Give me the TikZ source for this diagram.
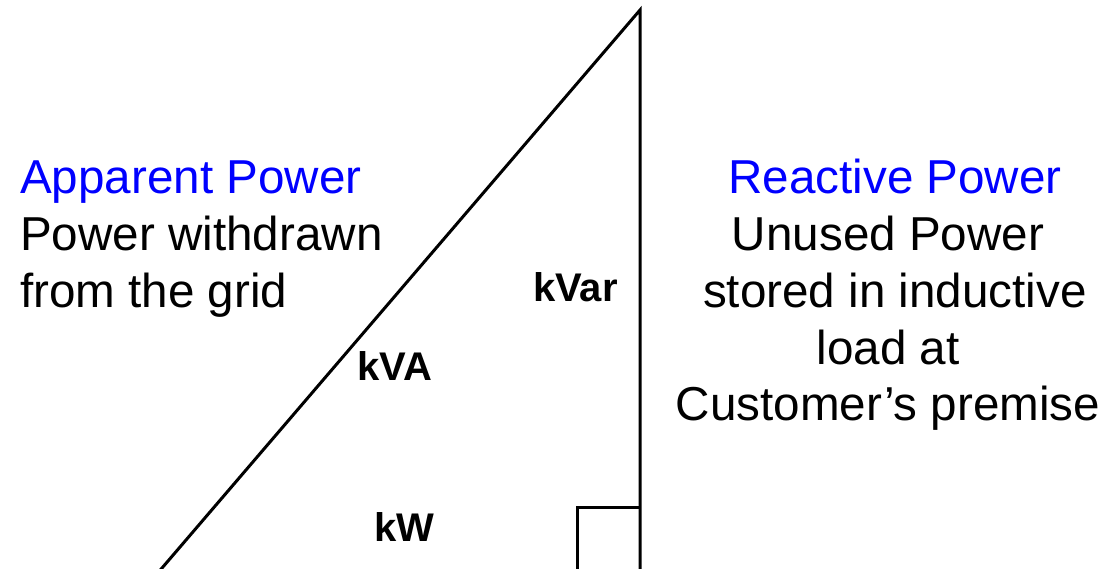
\documentclass[tikz,border=0pt]{standalone}
\usepackage{fontspec}
\setmainfont{Liberation Sans}
\definecolor{titleblue}{RGB}{0,0,255}
\begin{document}
\begin{tikzpicture}[x=1pt,y=-1pt,
  edge/.style={draw=black,line width=3pt},
  big/.style={font=\fontsize{47.6}{57}\selectfont,inner sep=0pt},
  lbl/.style={font=\fontsize{40}{46}\selectfont\bfseries,inner sep=0pt},
  ttl/.style={big,text=titleblue}]
\useasboundingbox (0,0) rectangle (1107,568);
\coordinate (top) at (640,10);
\coordinate (br) at (640,572);
\coordinate (bl) at (158.6,572);
\coordinate (sqa) at (577,572);
\coordinate (sqb) at (577,507);
\coordinate (sqc) at (640,507);
\draw[edge] (bl) -- (top) -- (br);
\draw[edge] (sqa) -- (sqb) -- (sqc);
% left text
\node[ttl,anchor=base west] (ap) at (20,193) {Apparent Power};
\node[big,anchor=base west] (ap1) at (20,250) {Power withdrawn};
\node[big,anchor=base west] (ap2) at (20,307) {from the grid};
% right text
\node[ttl,anchor=base] (rp) at (895,193) {Reactive Power};
\node[big,anchor=base] (rp1) at (888,250) {Unused Power};
\node[big,anchor=base] (rp2) at (895,307) {stored in inductive};
\node[big,anchor=base] (rp3) at (888,364) {load at};
\node[big,anchor=base] (rp4) at (888,420) {Customer’s premise};
% side labels
\node[lbl,anchor=base west] (kva) at (357,380) {kVA};
\node[lbl,anchor=base west] (kvar) at (533,301) {kVar};
\node[lbl,anchor=base west] (kw) at (374,541) {kW};
\end{tikzpicture}
\end{document}
